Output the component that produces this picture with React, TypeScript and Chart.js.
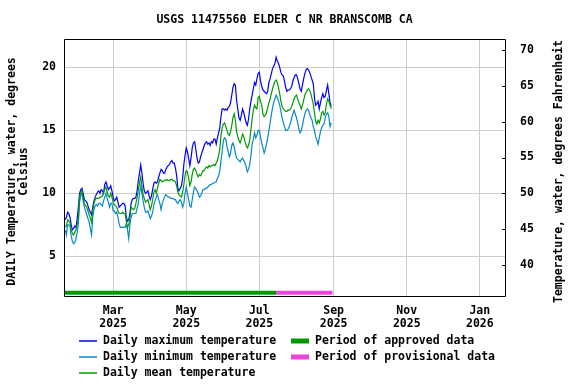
import React, { useEffect, useRef } from "react";
import { Chart, registerables } from "chart.js";

Chart.register(...registerables);

// ---------------- data ----------------
const chartTitle = "USGS 11475560 ELDER C NR BRANSCOMB CA";
const leftAxisTitle = ["DAILY Temperature, water, degrees", "Celsius"];
const rightAxisTitle = "Temperature, water, degrees Fahrenheit";

const startDate = "2025-01-20"; // first daily value
const xMin = "2025-01-19";
const xMax = "2026-01-22";
const xTickDates = ["2025-03-01", "2025-05-01", "2025-07-01", "2025-09-01", "2025-11-01", "2026-01-01"];
const monthNames = ["Jan", "Feb", "Mar", "Apr", "May", "Jun", "Jul", "Aug", "Sep", "Oct", "Nov", "Dec"];

const leftTicks = [5, 10, 15, 20];
const rightTicks = [40, 45, 50, 55, 60, 65, 70];

// Daily maximum temperature, deg C
const maxTemp = [
  7.9, 8.1, 8.5, 8.4, 8.1, 7.5, 7.1, 7.2, 7.4, 7.3,
  8.0, 8.9, 10.0, 10.3, 10.4, 10.0, 9.5, 9.4, 9.3, 9.0,
  8.7, 8.5, 8.3, 8.9, 9.4, 9.7, 9.9, 10.1, 10.2, 10.0,
  10.3, 10.2, 10.0, 10.7, 10.9, 10.6, 10.3, 10.4, 10.6, 10.2,
  9.7, 9.4, 9.5, 9.7, 9.3, 8.9, 9.0, 9.1, 9.2, 9.2,
  9.0, 8.1, 7.8, 7.9, 8.4, 9.2, 9.5, 9.6, 9.6, 9.7,
  10.2, 11.0, 11.6, 12.25, 11.6, 10.8, 10.2, 10.0, 10.1, 10.2,
  9.8, 9.5, 9.8, 10.3, 10.8, 10.9, 10.8, 10.9, 11.3, 11.6,
  11.9, 11.8, 11.6, 11.6, 11.9, 12.1, 12.2, 12.3, 12.5, 12.6,
  12.4, 12.4, 12.0, 11.4, 10.4, 10.2, 10.4, 10.6, 11.2, 12.3,
  13.0, 13.6, 13.3, 12.8, 12.2, 12.8, 13.6, 14.0, 14.1, 13.5,
  12.8, 12.4, 12.5, 12.9, 13.2, 13.5, 13.8, 14.0, 14.1, 13.9,
  14.0, 13.8, 14.1, 14.0, 14.3, 14.3, 13.9, 14.4, 14.8, 15.2,
  16.1, 16.7, 16.7, 16.6, 16.7, 16.6, 16.8, 16.9, 17.2, 17.8,
  18.4, 18.7, 18.6, 17.4, 16.7, 16.0, 15.8, 16.2, 16.7, 16.4,
  16.0, 15.6, 15.4, 15.9, 16.7, 17.3, 17.8, 18.3, 18.8, 18.6,
  19.1, 19.5, 19.6, 18.9, 18.5, 18.2, 18.1, 18.0, 17.9, 18.1,
  18.8, 19.1, 19.5, 19.9, 20.1, 20.3, 20.8, 20.5, 20.3, 20.0,
  19.6, 19.4, 19.3, 18.9, 18.4, 18.1, 18.2, 18.2, 18.3, 18.5,
  18.9, 19.2, 19.4, 19.4, 19.1, 18.7, 18.3, 18.1, 18.6, 19.1,
  19.5, 19.8, 19.9, 19.8, 19.6, 19.3, 19.0, 18.7, 17.6, 17.0,
  17.1, 17.3, 16.7, 17.2, 17.6, 17.9, 17.6, 17.7, 18.2, 18.6,
  17.9, 17.2, 16.9,
];

// Daily minimum temperature, deg C
const minTemp = [
  7.1, 6.7, 7.5, 7.5, 7.4, 6.6, 6.2, 6.0, 6.1, 6.4,
  6.9, 7.6, 9.3, 9.8, 10.0, 9.4, 8.9, 8.6, 8.3, 8.0,
  7.7, 7.2, 6.7, 8.1, 8.7, 9.0, 9.1, 9.0, 9.2, 9.2,
  9.1, 9.0, 9.4, 9.7, 10.0, 9.6, 9.3, 8.9, 9.2, 9.2,
  8.6, 8.6, 8.4, 8.5, 8.1, 7.6, 7.3, 7.3, 7.3, 7.3,
  7.3, 7.6, 7.1, 6.4, 7.5, 8.1, 8.4, 8.4, 8.4, 8.4,
  8.8, 9.2, 10.0, 10.6, 10.0, 9.4, 8.9, 8.5, 8.5, 8.6,
  8.3, 8.0, 8.2, 8.5, 9.1, 9.4, 9.7, 9.9, 9.5, 9.2,
  8.7, 9.2, 9.5, 9.7, 9.9, 9.8, 9.7, 9.7, 9.6, 9.6,
  9.6, 9.5, 9.5, 9.3, 9.2, 9.4, 9.5, 9.3, 8.9, 9.2,
  10.0, 10.5, 10.0, 9.5, 9.0, 8.9, 9.5, 10.1, 10.5, 10.4,
  10.2, 10.0, 9.7, 9.8, 10.0, 10.3, 10.3, 10.4, 10.4, 10.5,
  10.6, 10.7, 10.7, 10.8, 10.8, 10.9, 10.9, 11.2, 11.4, 11.8,
  12.6, 13.3, 14.2, 14.4, 14.3, 13.7, 13.3, 12.9, 13.2, 13.8,
  14.0, 13.7, 13.2, 12.8, 12.7, 12.6, 12.5, 12.7, 12.8, 12.6,
  12.4, 12.1, 11.7, 11.9, 12.3, 13.0, 13.9, 14.3, 14.8, 14.4,
  14.6, 15.0, 15.0, 14.5, 14.0, 13.6, 13.2, 13.5, 13.9, 14.4,
  15.0, 15.6, 16.2, 16.8, 17.2, 17.5, 17.8, 17.6, 17.3, 17.0,
  16.5, 16.0, 15.6, 15.3, 15.0, 15.0, 15.1, 15.3, 15.6, 16.0,
  16.3, 16.6, 16.3, 16.0, 15.6, 15.1, 14.8, 15.0, 15.4, 15.9,
  16.3, 16.6, 16.7, 16.6, 16.3, 16.0, 15.8, 15.3, 15.0, 14.5,
  14.2, 13.9, 14.4, 14.9, 15.2, 15.4, 15.5, 16.0, 16.3, 16.4,
  16.1, 15.3, 15.6,
];

// Daily mean temperature, deg C
const meanTemp = [
  7.35, 7.4, 7.9, 7.8, 7.7, 7.1, 6.8, 6.7, 6.9, 7.1,
  7.5, 8.1, 9.7, 10.1, 10.2, 9.6, 9.2, 9.0, 8.9, 8.6,
  8.3, 8.0, 7.7, 8.6, 9.2, 9.5, 9.6, 9.6, 9.6, 9.7,
  9.7, 9.8, 10.1, 10.3, 10.5, 10.1, 9.8, 9.7, 10.0, 9.7,
  9.3, 9.1, 9.0, 8.9, 8.6, 8.4, 8.4, 8.4, 8.5, 8.4,
  8.4, 7.8, 7.3, 7.5, 8.0, 8.9, 8.8, 8.7, 8.8, 9.2,
  9.7, 10.3, 10.8, 11.3, 10.6, 9.9, 9.6, 9.3, 9.4, 9.5,
  9.1, 8.7, 9.0, 9.5, 10.1, 10.3, 10.0, 10.4, 10.8, 11.1,
  11.0, 10.9, 11.0, 11.0, 11.05, 11.1, 11.0, 11.0, 11.1, 11.1,
  11.0, 11.0, 10.9, 10.6, 10.1, 9.9, 9.8, 9.7, 10.1, 10.7,
  11.4, 11.8, 11.7, 11.2, 10.6, 10.9, 11.5, 11.9, 12.0, 11.8,
  11.5, 11.3, 11.5, 11.4, 11.6, 11.8, 11.8, 12.0, 12.1, 12.0,
  12.2, 12.1, 12.2, 12.2, 12.3, 12.2, 12.4, 12.6, 13.0, 13.5,
  14.6, 15.2, 15.5, 15.6, 15.3, 15.0, 14.7, 14.6, 14.9, 15.4,
  16.0, 16.3, 15.8, 14.9, 14.5, 14.2, 14.0, 14.3, 14.7, 14.5,
  14.1, 13.8, 13.6, 13.8, 14.2, 15.1, 15.9, 16.6, 17.0, 16.8,
  16.7, 17.6, 17.7, 17.3, 17.0, 16.3, 16.1, 16.2, 16.4, 16.8,
  17.2, 17.5, 17.9, 18.3, 18.6, 18.9, 19.0, 18.8, 18.4, 17.9,
  17.3, 16.9, 16.7, 16.6, 16.5, 16.5, 16.6, 16.6, 16.7, 16.9,
  17.2, 17.5, 17.7, 17.8, 17.5, 17.2, 17.0, 16.7, 17.0, 17.4,
  17.8, 18.0, 18.2, 18.3, 18.2, 17.9, 17.5, 17.1, 16.4, 15.7,
  15.5, 15.8, 15.6, 15.9, 16.4, 16.5, 16.2, 16.4, 17.1, 17.5,
  17.3, 17.0, 16.7,
];

const approvedPeriod = ["2025-01-19", "2025-07-15"];
const provisionalPeriod = ["2025-07-15", "2025-08-31"];

const legendColumns = [
  ["Daily maximum temperature", "Daily minimum temperature", "Daily mean temperature"],
  ["Period of approved data", "Period of provisional data"],
];

// ---------------- styling ----------------
const FONT = '"DejaVu Sans Mono", "Liberation Mono", monospace';
const FONT_SIZE = 11.5;
const C_MAX = "#0000ff";
const C_MIN = "#0a88cc";
const C_MEAN = "#009a00";
const C_APPROVED = "#009a00";
const C_PROVISIONAL = "#ee44dd";
const BAR_LEVEL_C = 2.1;

const LEFT_MIN = 1.85;
const LEFT_MAX = 22.25;
const RIGHT_MIN = 35.6;
const RIGHT_MAX = 71.6;

const decorPlugin = {
  id: "usgsDecor",
  afterDraw(chart: any) {
    const { ctx, chartArea: a } = chart;
    ctx.save();
    // plot border
    ctx.strokeStyle = "#000";
    ctx.lineWidth = 1;
    ctx.beginPath();
    ctx.rect(a.left + 0.5, a.top + 0.5, a.right - a.left, a.bottom - a.top);
    ctx.stroke();

    // inward ticks on the right axis
    const y2 = chart.scales.y2;
    ctx.beginPath();
    for (const t of y2.ticks) {
      const py = Math.round(y2.getPixelForValue(t.value)) + 0.5;
      ctx.moveTo(a.right - 3, py);
      ctx.lineTo(a.right + 1, py);
    }
    ctx.stroke();

    ctx.fillStyle = "#000";
    ctx.font = `bold ${FONT_SIZE}px ${FONT}`;
    ctx.textAlign = "center";
    ctx.textBaseline = "middle";
    // title
    ctx.fillText(chartTitle, (a.left + a.right) / 2, 20);

    // axis titles
    const cy = (a.top + a.bottom) / 2 + 4;
    leftAxisTitle.forEach((line, i) => {
      ctx.save();
      ctx.translate(12 + i * 12, cy);
      ctx.rotate(-Math.PI / 2);
      ctx.fillText(line, 0, 0);
      ctx.restore();
    });
    ctx.save();
    ctx.translate(559, cy);
    ctx.rotate(-Math.PI / 2);
    ctx.fillText(rightAxisTitle, 0, 0);
    ctx.restore();

    // legend
    const colX = [79, 291];
    const rowY0 = 341;
    const rowH = 16;
    const sampleLen = 18;
    ctx.textAlign = "left";
    legendColumns.forEach((col, ci) => {
      col.forEach((label, ri) => {
        const ds = chart.data.datasets.find((d: any) => d.label === label);
        if (!ds) return;
        const y = rowY0 + ri * rowH;
        ctx.strokeStyle = ds.borderColor;
        ctx.lineWidth = ds.borderWidth > 2 ? 5 : 1.5;
        ctx.beginPath();
        ctx.moveTo(colX[ci], y);
        ctx.lineTo(colX[ci] + sampleLen, y);
        ctx.stroke();
        ctx.fillStyle = "#000";
        ctx.fillText(label, colX[ci] + 24, y);
      });
    });
    ctx.restore();
  },
};

export default function App() {
  const ref = useRef<HTMLCanvasElement>(null);

  useEffect(() => {
    if (!ref.current) return;
    const DAY = 86400000;
    const t0 = Date.parse(startDate);
    const series = (arr: number[]) => arr.map((v, i) => ({ x: t0 + i * DAY, y: v }));
    const period = (p: string[]) => p.map((d) => ({ x: Date.parse(d), y: BAR_LEVEL_C }));
    const font = { family: FONT, size: FONT_SIZE, weight: "bold" as const };

    const lineDs = (label: string, data: any[], color: string, width: number) => ({
      label,
      data,
      borderColor: color,
      backgroundColor: color,
      borderWidth: width,
      pointRadius: 0,
      tension: 0,
      fill: false,
      yAxisID: "y",
      borderCapStyle: "butt" as const,
    });

    const chart = new Chart(ref.current, {
      type: "line",
      data: {
        datasets: [
          lineDs("Daily mean temperature", series(meanTemp), C_MEAN, 1.2),
          lineDs("Daily minimum temperature", series(minTemp), C_MIN, 1.2),
          lineDs("Daily maximum temperature", series(maxTemp), C_MAX, 1.2),
          lineDs("Period of approved data", period(approvedPeriod), C_APPROVED, 4),
          lineDs("Period of provisional data", period(provisionalPeriod), C_PROVISIONAL, 4),
        ],
      },
      options: {
        animation: false,
        responsive: false,
        maintainAspectRatio: false,
        layout: { padding: { top: 39, left: 0, right: 0, bottom: 0 } },
        plugins: {
          legend: { display: false },
          title: { display: false },
          tooltip: { enabled: false },
        },
        scales: {
          x: {
            type: "linear",
            min: Date.parse(xMin),
            max: Date.parse(xMax),
            afterBuildTicks: (s: any) => {
              s.ticks = xTickDates.map((d) => ({ value: Date.parse(d) }));
            },
            afterFit: (s: any) => {
              s.height = 88;
            },
            ticks: {
              autoSkip: false,
              maxRotation: 0,
              padding: 8,
              color: "#000",
              font: { ...font, lineHeight: 13.5 / FONT_SIZE },
              callback: (v: any) => {
                const d = new Date(Number(v));
                return [monthNames[d.getUTCMonth()], String(d.getUTCFullYear())];
              },
            },
            grid: { color: "#cccccc", lineWidth: 1, drawTicks: false },
            border: { display: false },
          },
          y: {
            position: "left",
            min: LEFT_MIN,
            max: LEFT_MAX,
            afterBuildTicks: (s: any) => {
              s.ticks = leftTicks.map((v) => ({ value: v }));
            },
            afterFit: (s: any) => {
              s.width = 64;
            },
            ticks: { padding: 8, color: "#000", font, callback: (v: any) => String(v) },
            grid: { color: "#cccccc", lineWidth: 1, drawTicks: false },
            border: { display: false },
          },
          y2: {
            position: "right",
            min: RIGHT_MIN,
            max: RIGHT_MAX,
            afterBuildTicks: (s: any) => {
              s.ticks = rightTicks.map((v) => ({ value: v }));
            },
            afterFit: (s: any) => {
              s.width = 71;
            },
            ticks: { padding: 15, color: "#000", font, callback: (v: any) => String(v) },
            grid: { drawOnChartArea: false, drawTicks: false },
            border: { display: false },
          },
        },
      } as any,
      plugins: [decorPlugin],
    });
    return () => chart.destroy();
  }, []);

  return (
    <div style={{ position: "fixed", left: 0, top: 0, width: 576, height: 384, background: "#fff" }}>
      <canvas ref={ref} width={576} height={384} style={{ display: "block", width: 576, height: 384 }} />
    </div>
  );
}
